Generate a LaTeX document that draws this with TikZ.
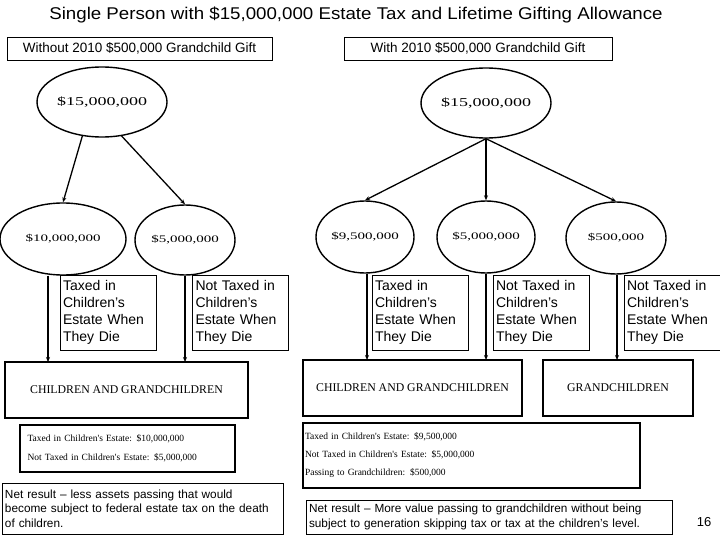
\documentclass[tikz,border=0pt]{standalone}
\usepackage{fontspec}
\setmainfont{Liberation Sans}
\newfontfamily\tms{Liberation Serif}
\newfontfamily\tmsw[FakeStretch=1.5]{Liberation Serif}
\newfontfamily\arw[FakeStretch=1.1]{Liberation Sans}
\usetikzlibrary{shapes.geometric,arrows.meta}
\begin{document}
\begin{tikzpicture}[x=1pt,y=-1pt,
  ell/.style={ellipse,draw,line width=1.4pt,inner sep=0pt},
  tbox/.style={draw,line width=0.6pt,align=left,font=\fontsize{14}{17}\selectfont,inner sep=3pt,minimum height=75},
  nbox/.style={draw,line width=0.6pt,align=left,font=\fontsize{11.8}{14.5}\selectfont,inner sep=3pt},
  bbox/.style={draw,line width=1.6pt,font=\tms\fontsize{11.8}{13}\selectfont},
  sbox/.style={draw,line width=1.6pt,align=left,font=\tms\fontsize{9.5}{11}\selectfont},
  arr/.style={line width=1.3pt,-{Stealth[length=5pt,width=4pt]}}]
\useasboundingbox (0,0) rectangle (720,540);
\node (title) at (356,15) {\arw\fontsize{17}{19}\selectfont Single Person with \$15,000,000 Estate Tax and Lifetime Gifting Allowance};
\node[draw,minimum width=265,minimum height=23,font=\fontsize{13.5}{15}\selectfont] (hl) at (139.5,48.5) {Without 2010 \$500,000 Grandchild Gift};
\node[draw,minimum width=268,minimum height=23,font=\fontsize{13.5}{15}\selectfont] (hr) at (478,48.5) {With 2010 \$500,000 Grandchild Gift};
% ellipses
\node[ell,minimum width=130,minimum height=70,font=\tmsw\fontsize{12}{13}\selectfont] (tl) at (102,102) {\$15,000,000};
\node[ell,minimum width=130,minimum height=70,font=\tmsw\fontsize{12}{13}\selectfont] (tr) at (486,103) {\$15,000,000};
\node[ell,minimum width=126,minimum height=72,font=\tmsw\fontsize{10}{11}\selectfont] (a1) at (63,239) {\$10,000,000};
\node[ell,minimum width=100,minimum height=70,font=\tmsw\fontsize{10}{11}\selectfont] (a2) at (185,240) {\$5,000,000};
\node[ell,minimum width=98,minimum height=72,font=\tmsw\fontsize{10}{11}\selectfont] (b1) at (365,237) {\$9,500,000};
\node[ell,minimum width=98,minimum height=72,font=\tmsw\fontsize{10}{11}\selectfont] (b2) at (486,237) {\$5,000,000};
\node[ell,minimum width=100,minimum height=72,font=\tmsw\fontsize{10}{11}\selectfont] (b3) at (616,238) {\$500,000};
\draw[arr] (tl.240) -- (a1.north);
\draw[arr] (tl.300) -- (a2.north);
\draw[arr] (tr.south) -- (b1.north);
\draw[arr] (tr.south) -- (b2.north);
\draw[arr] (tr.south) -- (b3.north);
% text boxes
\node[tbox,text width=90] (t1) at (108,312.5) {Taxed in\\Children's\\Estate When\\They Die};
\node[tbox,text width=90] (t2) at (240.5,312.5) {Not Taxed in\\Children's\\Estate When\\They Die};
\node[tbox,text width=90] (t3) at (420,312.5) {Taxed in\\Children's\\Estate When\\They Die};
\node[tbox,text width=90] (t4) at (541,312.5) {Not Taxed in\\Children's\\Estate When\\They Die};
\node[tbox,text width=90] (t5) at (672,312.5) {Not Taxed in\\Children's\\Estate When\\They Die};
% destination boxes
\node[bbox,minimum width=243,minimum height=56] (cl) at (126.5,390) {CHILDREN AND GRANDCHILDREN};
\node[bbox,minimum width=219,minimum height=56] (cr) at (412.5,388) {CHILDREN AND GRANDCHILDREN};
\node[bbox,minimum width=150,minimum height=56] (gr) at (618,388) {GRANDCHILDREN};
\coordinate (c1) at (48,362); \coordinate (c2) at (185,362);
\coordinate (c3) at (367,360); \coordinate (c4) at (486,360); \coordinate (c5) at (617,360);
\draw[arr] (a1.south -| c1) -- (c1);
\draw[arr] (a2.south) -- (c2);
\draw[arr] (b1.south -| c3) -- (c3);
\draw[arr] (b2.south) -- (c4);
\draw[arr] (b3.south -| c5) -- (c5);
% summaries
\node[sbox,minimum width=215,minimum height=47,text width=200] (sl) at (127.5,448.5) {Taxed in Children's Estate: \$10,000,000\\[8pt]Not Taxed in Children's Estate: \$5,000,000};
\node[sbox,minimum width=337,minimum height=65,text width=333,inner sep=1.5pt] (sr) at (471.5,455.5) {Taxed in Children's Estate: \$9,500,000\\[7pt]Not Taxed in Children's Estate: \$5,000,000\\[7pt]Passing to Grandchildren: \$500,000};
\node[nbox,text width=275,minimum height=51] (nl) at (142.5,508.5) {Net result -- less assets passing that would\\become subject to federal estate tax on the death\\of children.};
\node[nbox,text width=360,minimum height=34] (nr) at (489,517) {Net result -- More value passing to grandchildren without being\\subject to generation skipping tax or tax at the children's level.};
\node[font=\fontsize{13}{15}\selectfont] (pg) at (704,522) {16};
\end{tikzpicture}
\end{document}
